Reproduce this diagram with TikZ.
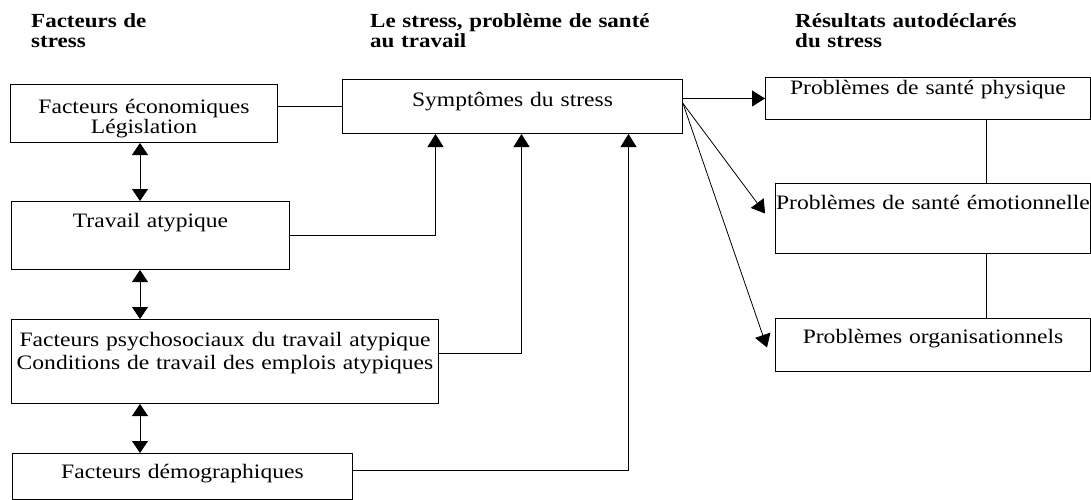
\documentclass[tikz,border=0pt]{standalone}
\usepackage{fontspec}
\setmainfont{Liberation Serif}[FakeStretch=1.15]
\usetikzlibrary{arrows.meta}

\newcommand{\boxfont}{\fontsize{20.5}{21}\selectfont}

\begin{document}
\begin{tikzpicture}[x=1pt, y=-1pt,
    box/.style={draw, line width=1pt, anchor=north west, inner sep=0pt, align=center, font=\boxfont},
    head/.style={anchor=base west, inner sep=0pt, align=left, font=\bfseries\fontsize{20}{20}\selectfont},
    arr/.style={line width=0.8pt, -{Triangle[length=13pt,width=16pt]}},
    darr/.style={line width=0.8pt, {Triangle[length=12pt,width=16pt]}-{Triangle[length=12pt,width=16pt]}}]
    \useasboundingbox (0,0) rectangle (1091,500);

    % Titres des colonnes
    \node[head, text width=200pt] (hcause) at (31,28) {Facteurs de\\stress};
    \node[head, text width=300pt] (hstress) at (370,28) {Le stress, problème de santé\\au travail};
    \node[head, text width=290pt] (hresult) at (795,28) {Résultats autodéclarés\\du stress};

    % Facteurs de stress (colonne de gauche)
    \node[box, text width=267pt, text height=29pt, text depth=29pt, font={\fontsize{20.5}{18}\selectfont}] (eco) at (10,84) {Facteurs économiques\\Législation};
    \node[box, text width=278pt, text height=26pt, text depth=42pt] (trav) at (11,201) {Travail atypique};
    \node[box, text width=427pt, text height=27pt, text depth=57pt, font={\fontsize{20.5}{22.5}\selectfont}] (psy) at (11,319) {Facteurs psychosociaux du travail atypique\\Conditions de travail des emplois atypiques};
    \node[box, text width=340pt, text height=25pt, text depth=21pt] (demo) at (12,453) {Facteurs démographiques};

    % Symptomes
    \node[box, text width=340pt, text height=27pt, text depth=27pt] (symp) at (342,79) {Symptômes du stress};

    % Resultats (colonne de droite)
    \node[box, text width=325pt, text height=17pt, text depth=25pt] (phys) at (765,77) {Problèmes de santé physique};
    \node[box, text width=315pt, text height=26pt, text depth=44pt] (emo) at (775,183) {Problèmes de santé émotionnelle};
    \node[box, text width=315pt, text height=25pt, text depth=28pt] (org) at (775,318) {Problèmes organisationnels};

    % Liens entre les facteurs
    \coordinate (lcol) at (140,0);
    \draw[darr] (lcol |- eco.south) -- (lcol |- trav.north);
    \draw[darr] (lcol |- trav.south) -- (lcol |- psy.north);
    \draw[darr] (lcol |- psy.south) -- (lcol |- demo.north);

    % Vers les symptomes
    \draw[line width=0.8pt] (symp.west -| eco.east) -- (symp.west);
    \draw[arr] (trav.east) -| ([xshift=-77pt]symp.south);
    \draw[arr] ([yshift=8pt]psy.east) -| ([xshift=9pt]symp.south);
    \draw[arr] ([yshift=6pt]demo.east) -| ([xshift=116pt]symp.south);

    % Vers les resultats
    \draw[arr] (symp.east |- phys.west) -- (phys.west);
    \draw[arr] ([yshift=3pt]symp.east) -- ([xshift=-10pt, yshift=5pt]emo.west);
    \draw[arr] ([yshift=3pt]symp.east) -- ([xshift=-8pt, yshift=-2.5pt]org.west);

    % Liens entre les resultats
    \coordinate (rcol) at (986,0);
    \draw[line width=0.6pt] (rcol |- phys.south) -- (rcol |- emo.north);
    \draw[line width=0.6pt] (rcol |- emo.south) -- (rcol |- org.north);
\end{tikzpicture}
\end{document}
